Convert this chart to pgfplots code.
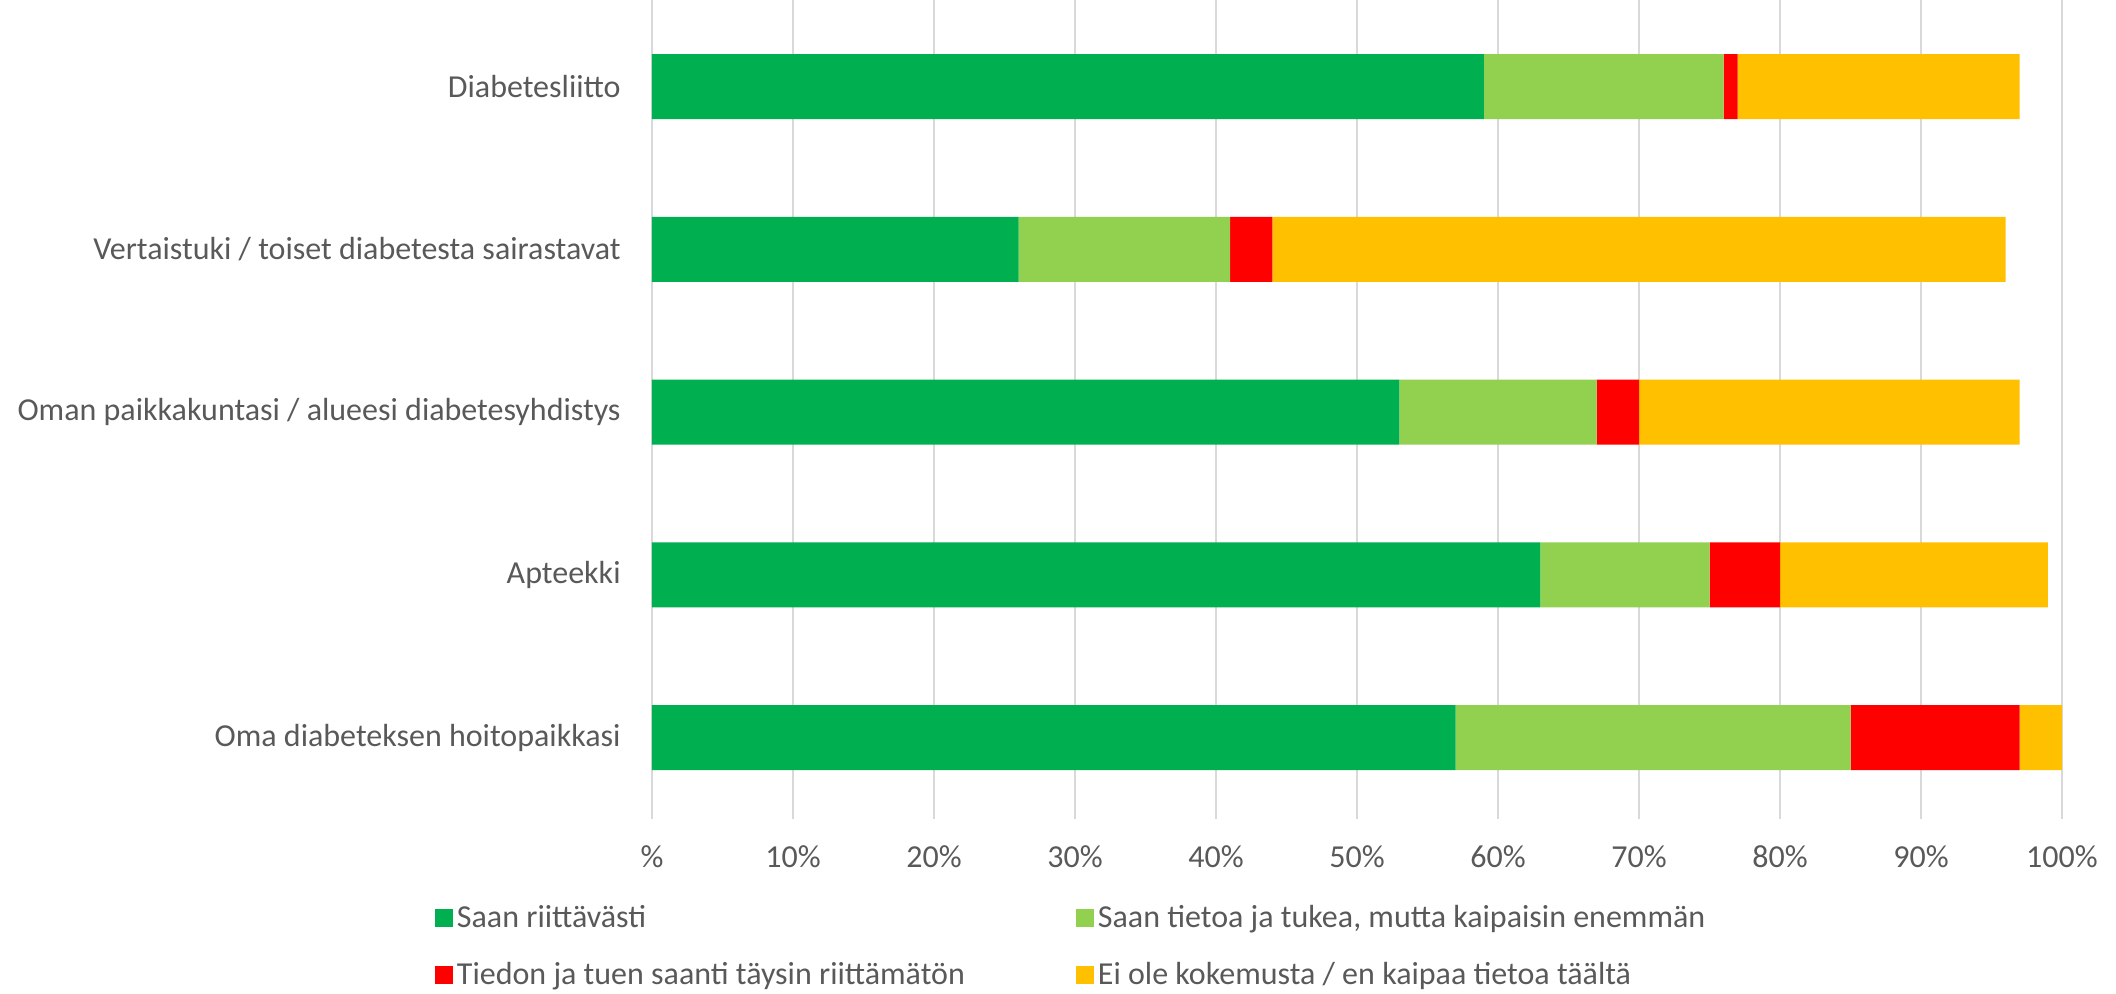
\documentclass[border=0pt]{standalone}
\usepackage{fontspec}
\setmainfont{Carlito}
\usepackage{pgfplots}
\pgfplotsset{compat=1.18}
\definecolor{cG}{HTML}{00B050}
\definecolor{cLG}{HTML}{92D050}
\definecolor{cR}{HTML}{FF0000}
\definecolor{cY}{HTML}{FFC000}
\definecolor{txt}{HTML}{595959}
\definecolor{gridc}{HTML}{D9D9D9}
\begin{document}
\begin{tikzpicture}
\begin{axis}[
  xbar stacked,
  scale only axis,
  width=705bp, height=410bp,
  xmin=0, xmax=100, ymin=-0.5, ymax=4.538,
  bar width=32.5bp,
  axis line style={draw=none},
  xmajorgrids, grid style={draw=gridc, line width=1bp},
  xtick={0,10,...,100},
  xticklabels={\%,10\%,20\%,30\%,40\%,50\%,60\%,70\%,80\%,90\%,100\%},
  ytick={0,1,2,3,4},
  yticklabels={Oma diabeteksen hoitopaikkasi, Apteekki, Oman paikkakuntasi / alueesi diabetesyhdistys, Vertaistuki / toiset diabetesta sairastavat, Diabetesliitto},
  major tick length=0pt,
  ticklabel style={font=\fontsize{16bp}{19bp}\selectfont, text=txt, inner sep=0pt},
  yticklabel shift=15.5bp,
  xticklabel shift=13bp,
  legend columns=2,
  legend cell align=left,
  legend image code/.code={\fill[#1] (0bp,-4.5bp) rectangle (9bp,4.5bp);},
  legend style={draw=none, fill=none, inner sep=0pt, outer sep=0pt,
    font=\fontsize{16bp}{19bp}\selectfont, text=txt,
    at={(axis description cs:-0.1539,-0.1)}, anchor=north west,
    row sep=12bp,
    /tikz/column 2/.style={column sep=53.5bp}},
]
\addplot[fill=cG, draw=none] coordinates {(57,0) (63,1) (53,2) (26,3) (59,4)};
\addplot[fill=cLG, draw=none] coordinates {(28,0) (12,1) (14,2) (15,3) (17,4)};
\addplot[fill=cR, draw=none] coordinates {(12,0) (5,1) (3,2) (3,3) (1,4)};
\addplot[fill=cY, draw=none] coordinates {(3,0) (19,1) (27,2) (52,3) (20,4)};
\legend{Saan riittävästi, {Saan tietoa ja tukea, mutta kaipaisin enemmän}, Tiedon ja tuen saanti täysin riittämätön, Ei ole kokemusta / en kaipaa tietoa täältä}
\end{axis}
\pgfresetboundingbox
\path (-326bp,-87.5bp) rectangle (732bp,409.5bp);
\end{tikzpicture}
\end{document}
